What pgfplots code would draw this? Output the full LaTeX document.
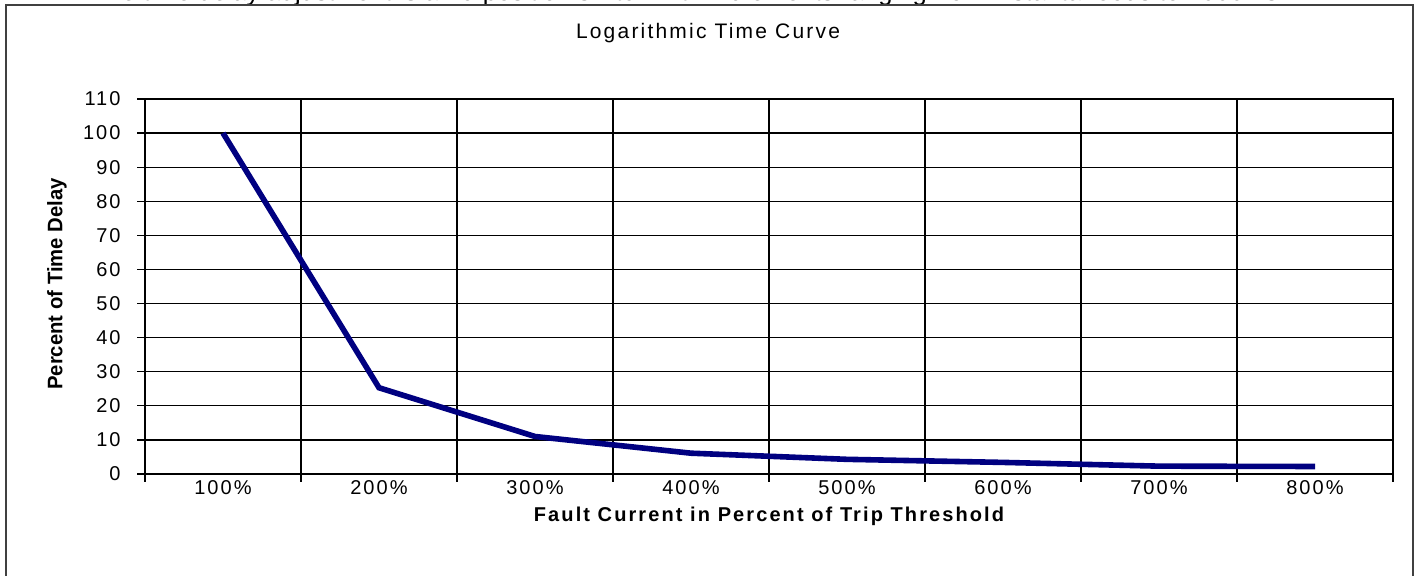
\documentclass[border=0pt]{standalone}
\usepackage{fontspec}
\setmainfont{Liberation Sans}
\newfontfamily\spaced[LetterSpace=10.5]{Liberation Sans}
\usepackage{pgfplots}
\pgfplotsset{compat=1.18}
\definecolor{navyline}{RGB}{0,0,128}
\begin{document}
\begin{tikzpicture}[x=1pt,y=1pt]
\useasboundingbox (0,0) rectangle (708.5,288);
\node[anchor=base, inner sep=0pt, font=\fontsize{12.8}{14}\selectfont] at (342.5,287.6) {The time delay adjustment is a 16-position switch with increments ranging from instantaneous to 1000ms};
\draw[line width=0.8pt, black!75] (3,-5) -- (3,285.5) -- (706.5,285.5) -- (706.5,-5);
\node[font=\spaced\fontsize{10.5}{12}\selectfont] at (354,271.5) {Logarithmic Time Curve};
\node[font=\bfseries\fontsize{10.5}{12}\selectfont, rotate=90] at (28.5,146) {\scalebox{0.965}[1]{Percent of Time Delay}};
\node[font=\spaced\bfseries\fontsize{10}{12}\selectfont] at (384.5,30) {Fault Current in Percent of Trip Threshold};
\begin{axis}[
  scale only axis, width=624pt, height=187.5pt,
  at={(72.5pt,51pt)}, anchor=south west,
  xmin=0.5, xmax=8.5, ymin=0, ymax=110,
  axis line style={black, line width=0.65pt},
  tick style={black, line width=0.65pt},
  major tick length=4pt,
  tick align=outside,
  xtick pos=bottom, ytick pos=left,
  xtick={0.5,1.5,...,8.5},
  xticklabels={},
  ytick={0,10,...,110},
  yticklabels={0,10,20,30,40,50,60,70,80,90,100,110},
  xmajorgrids, ymajorgrids,
  grid style={black, line width=0.65pt},
  extra x ticks={1,2,3,4,5,6,7,8},
  extra x tick labels={100\%,200\%,300\%,400\%,500\%,600\%,700\%,800\%},
  extra x tick style={major tick length=0pt, grid=none, tick style={draw=none},
     xticklabel style={inner sep=0pt, anchor=north, yshift=-3.2pt}},
  yticklabel style={inner sep=0pt, anchor=east, xshift=-8pt},
  ticklabel style={font=\spaced\fontsize{10}{12}\selectfont},
  /pgf/number format/assume math mode=true,
]
\addplot[navyline, line width=2.8pt, line join=miter, line cap=butt] coordinates {
 (1,100) (2,25.3) (3,11) (4,6.1) (5,4.3) (6,3.4) (7,2.3) (8,2.2)
};
\end{axis}
\end{tikzpicture}
\end{document}
